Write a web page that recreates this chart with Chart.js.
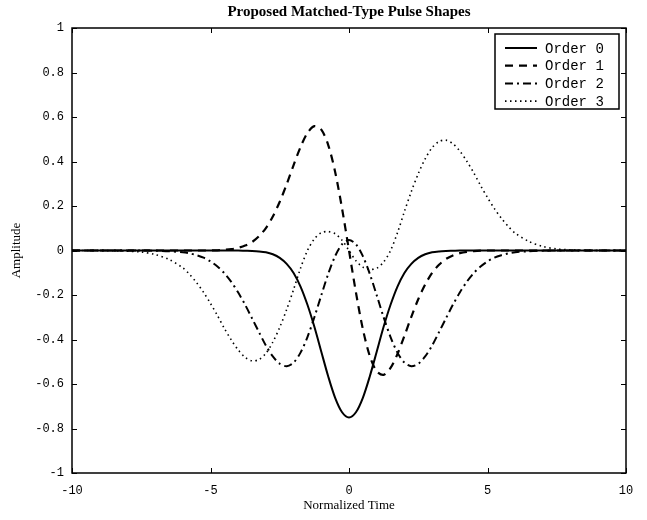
<!DOCTYPE html>
<html>
<head>
<meta charset="utf-8">
<script src="https://cdn.jsdelivr.net/npm/chart.js@4"></script>
<style>
  html, body { margin: 0; padding: 0; background: #fff; }
  #wrap { width: 647px; height: 520px; }
</style>
</head>
<body>
<div id="wrap"><canvas id="pulseChart" width="647" height="520"></canvas></div>
<script>
// normalized time samples (coarse in the flat tails, finer in the middle)
const times = [
  -10, -9.5, -9, -8.5, -8, -7.5, -7, -6.5,
  -6, -5.75, -5.5, -5.25, -5, -4.75, -4.5, -4.25, -4,
  -3.75, -3.5, -3.25, -3, -2.75, -2.5, -2.25, -2, -1.75, -1.5, -1.25, -1, -0.75, -0.5, -0.25,
  0,
  0.25, 0.5, 0.75, 1, 1.25, 1.5, 1.75, 2, 2.25, 2.5, 2.75, 3, 3.25, 3.5, 3.75,
  4, 4.25, 4.5, 4.75, 5, 5.25, 5.5, 5.75, 6,
  6.5, 7, 7.5, 8, 8.5, 9, 9.5, 10
];

// amplitudes
const order0 = [
  0, 0, 0, 0, 0, 0, 0, 0,
  0, 0, 0, 0, 0, 0, 0, 0, 0,
  -0.001, -0.002, -0.004, -0.008, -0.017, -0.033, -0.06, -0.101, -0.162, -0.244, -0.343, -0.455, -0.566, -0.662, -0.727,
  -0.75,
  -0.727, -0.662, -0.566, -0.455, -0.343, -0.244, -0.162, -0.101, -0.06, -0.033, -0.017, -0.008, -0.004, -0.002, -0.001,
  0, 0, 0, 0, 0, 0, 0, 0, 0,
  0, 0, 0, 0, 0, 0, 0, 0
];
const order1 = [
  0, 0, 0, 0, 0, 0, 0, 0,
  0, 0, 0, 0, 0, 0.001, 0.003, 0.006, 0.012,
  0.022, 0.038, 0.064, 0.101, 0.153, 0.219, 0.298, 0.384, 0.465, 0.528, 0.559, 0.543, 0.474, 0.353, 0.188,
  0,
  -0.188, -0.353, -0.474, -0.543, -0.559, -0.528, -0.465, -0.384, -0.298, -0.219, -0.153, -0.101, -0.064, -0.038, -0.022,
  -0.012, -0.006, -0.003, -0.001, 0, 0, 0, 0, 0,
  0, 0, 0, 0, 0, 0, 0, 0
];
const order2 = [
  0, 0, 0, 0, 0, 0, -0.001, -0.003,
  -0.008, -0.013, -0.021, -0.032, -0.049, -0.072, -0.102, -0.141, -0.189,
  -0.244, -0.305, -0.367, -0.427, -0.476, -0.509, -0.52, -0.504, -0.459, -0.389, -0.3, -0.201, -0.105, -0.025, 0.028,
  0.047,
  0.028, -0.025, -0.105, -0.201, -0.3, -0.389, -0.459, -0.504, -0.52, -0.509, -0.476, -0.427, -0.367, -0.305, -0.244,
  -0.189, -0.141, -0.102, -0.072, -0.049, -0.032, -0.021, -0.013, -0.008,
  -0.003, -0.001, 0, 0, 0, 0, 0, 0
];
const order3 = [
  0, 0, 0, -0.001, -0.003, -0.007, -0.018, -0.04,
  -0.078, -0.108, -0.145, -0.188, -0.238, -0.292, -0.35, -0.402, -0.447,
  -0.48, -0.496, -0.49, -0.462, -0.412, -0.345, -0.265, -0.175, -0.08, 0, 0.052, 0.08, 0.085, 0.075, 0.046,
  0,
  -0.046, -0.075, -0.085, -0.08, -0.052, 0, 0.08, 0.175, 0.265, 0.345, 0.412, 0.462, 0.49, 0.496, 0.48,
  0.447, 0.402, 0.35, 0.292, 0.238, 0.188, 0.145, 0.108, 0.078,
  0.04, 0.018, 0.007, 0.003, 0.001, 0, 0, 0
];

const seriesNames = ['Order 0', 'Order 1', 'Order 2', 'Order 3'];
const xTicks = [-10, -5, 0, 5, 10];
const yTicks = [-1, -0.8, -0.6, -0.4, -0.2, 0, 0.2, 0.4, 0.6, 0.8, 1];

const monoFont = '"Liberation Mono", "DejaVu Sans Mono", monospace';
const serifFont = '"Liberation Serif", "DejaVu Serif", serif';

const dashes = [[], [8, 6], [8, 4, 2, 4], [1.5, 3.5]];
const widths = [2, 2.2, 2, 1.6];

function toPoints(arr) {
  return times.map((t, i) => ({ x: t, y: arr[i] }));
}

// box, inward ticks, legend and title, matlab style
const matlabFrame = {
  id: 'matlabFrame',
  afterDraw(chart) {
    const ctx = chart.ctx;
    const area = chart.chartArea;
    const xs = chart.scales.x, ys = chart.scales.y;
    ctx.save();
    ctx.strokeStyle = '#000';
    ctx.lineWidth = 1.5;
    ctx.setLineDash([]);
    ctx.strokeRect(area.left, area.top, area.right - area.left, area.bottom - area.top);

    ctx.lineWidth = 1;
    const tl = 5;
    xTicks.forEach(v => {
      const px = Math.round(xs.getPixelForValue(v)) + 0.5;
      ctx.beginPath();
      ctx.moveTo(px, area.bottom); ctx.lineTo(px, area.bottom - tl);
      ctx.moveTo(px, area.top); ctx.lineTo(px, area.top + tl);
      ctx.stroke();
    });
    yTicks.forEach(v => {
      const py = Math.round(ys.getPixelForValue(v)) + 0.5;
      ctx.beginPath();
      ctx.moveTo(area.left, py); ctx.lineTo(area.left + tl, py);
      ctx.moveTo(area.right, py); ctx.lineTo(area.right - tl, py);
      ctx.stroke();
    });

    // legend box
    const lx = 495, ly = 34, lw = 124, lh = 75;
    ctx.fillStyle = '#fff';
    ctx.fillRect(lx, ly, lw, lh);
    ctx.lineWidth = 1.5;
    ctx.strokeRect(lx, ly, lw, lh);
    chart.data.datasets.forEach((ds, i) => {
      const y = 48 + i * 17.7;
      ctx.beginPath();
      ctx.lineWidth = ds.borderWidth;
      ctx.setLineDash(ds.borderDash);
      ctx.moveTo(505, y); ctx.lineTo(537, y);
      ctx.stroke();
      ctx.setLineDash([]);
      ctx.fillStyle = '#000';
      ctx.font = '14px ' + monoFont;
      ctx.textAlign = 'left';
      ctx.textBaseline = 'middle';
      ctx.fillText(ds.label, 545, y + 1);
    });

    // title
    ctx.font = 'bold 15px ' + serifFont;
    ctx.textAlign = 'center';
    ctx.textBaseline = 'middle';
    ctx.fillText('Proposed Matched-Type Pulse Shapes', (area.left + area.right) / 2, 12);
    ctx.restore();
  }
};

const ctx = document.getElementById('pulseChart').getContext('2d');
const pulseChart = new Chart(ctx, {
  type: 'line',
  data: {
    datasets: [order0, order1, order2, order3].map((arr, i) => ({
      label: seriesNames[i],
      data: toPoints(arr),
      borderColor: '#000',
      backgroundColor: '#000',
      borderWidth: widths[i],
      borderDash: dashes[i],
      pointRadius: 0,
      tension: 0.3,
      fill: false
    }))
  },
  options: {
    responsive: false,
    animation: false,
    layout: { padding: { top: 28, right: 21, left: 0, bottom: 0 } },
    plugins: {
      legend: { display: false },
      title: { display: false },
      tooltip: { enabled: false }
    },
    scales: {
      x: {
        type: 'linear',
        min: -10,
        max: 10,
        afterBuildTicks: scale => { scale.ticks = xTicks.map(v => ({ value: v })); },
        afterFit: scale => { scale.height = 47; },
        grid: { display: false },
        border: { display: false },
        ticks: {
          color: '#000',
          padding: 3,
          maxRotation: 0,
          font: { family: monoFont, size: 12 }
        },
        title: {
          display: true,
          text: 'Normalized Time',
          color: '#000',
          padding: { top: 0, bottom: 7 },
          font: { family: serifFont, size: 13 }
        }
      },
      y: {
        min: -1,
        max: 1,
        afterBuildTicks: scale => { scale.ticks = yTicks.map(v => ({ value: v })); },
        afterFit: scale => { scale.width = 72; },
        grid: { display: false },
        border: { display: false },
        ticks: {
          color: '#000',
          padding: 0,
          font: { family: monoFont, size: 12 },
          callback: v => String(Number(v.toFixed(1)))
        },
        title: {
          display: true,
          text: 'Amplitude',
          color: '#000',
          padding: { top: 9, bottom: 0 },
          font: { family: serifFont, size: 13 }
        }
      }
    }
  },
  plugins: [matlabFrame]
});
</script>
</body>
</html>
